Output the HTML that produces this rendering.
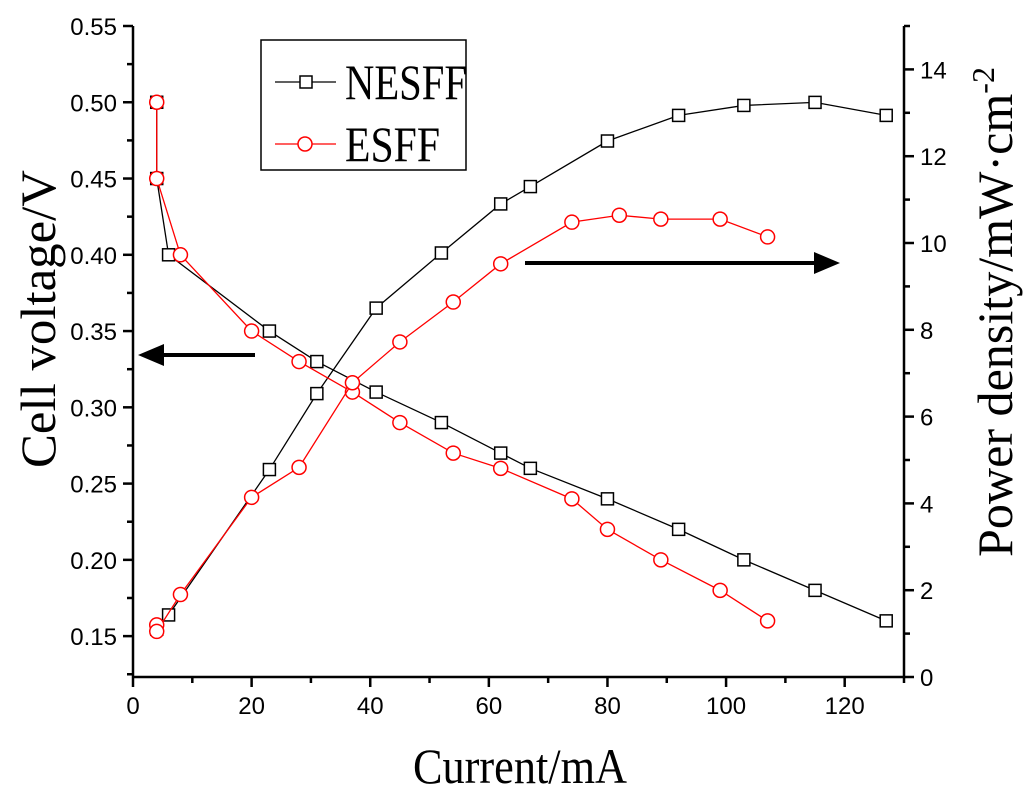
<!DOCTYPE html>
<html><head><meta charset="utf-8"><style>
html,body{margin:0;padding:0;background:#fff;}
svg{display:block;}
.tk{font-family:"Liberation Sans",Arial,sans-serif;font-size:24px;fill:#000;}
.tt{font-family:"Liberation Serif","Times New Roman",serif;font-size:50px;fill:#000;}
</style></head><body>
<svg id="chart" width="1024" height="797" viewBox="0 0 1024 797"></svg>
<script>
const xTicks=[0,20,40,60,80,100,120];
const yLTicks=[0.15,0.20,0.25,0.30,0.35,0.40,0.45,0.50,0.55];
const yRTicks=[0,2,4,6,8,10,12,14];
const nesffVI=[4,4,6,23,31,41,52,62,67,80,92,103,115,127];
const nesffV=[0.50,0.45,0.40,0.35,0.33,0.31,0.29,0.27,0.26,0.24,0.22,0.20,0.18,0.16];
const nesffPI=[4,6,23,31,41,52,62,67,80,92,103,115,127];
const nesffP=[1.1,1.43,4.78,6.53,8.5,9.77,10.9,11.3,12.35,12.94,13.17,13.24,12.94];
const esffVI=[4,4,8,20,28,37,45,54,62,74,80,89,99,107];
const esffV=[0.50,0.45,0.40,0.35,0.33,0.31,0.29,0.27,0.26,0.24,0.22,0.20,0.18,0.16];
const esffPI=[4,4,8,20,28,37,45,54,62,74,82,89,99,107];
const esffP=[1.2,1.05,1.9,4.14,4.83,6.78,7.72,8.64,9.52,10.48,10.64,10.55,10.55,10.14];

const L=133,R=904,T=26,B=677;
const X=v=>L+(v-0)/130*(R-L);
const YL=v=>B-(v-0.1232)/(0.55-0.1232)*(B-T);
const YR=v=>B-v/15*(B-T);
const svg=document.getElementById('chart');
const NS='http://www.w3.org/2000/svg';
function mk(tag,attrs,parent){const e=document.createElementNS(NS,tag);for(const k in attrs)e.setAttribute(k,attrs[k]);(parent||svg).appendChild(e);return e;}

const ax=mk('g',{stroke:'#000','stroke-width':2.5,fill:'none'});


mk('line',{x1:L,y1:T,x2:L,y2:B},ax);
mk('line',{x1:L,y1:B,x2:R,y2:B},ax);
mk('line',{x1:R,y1:T,x2:R,y2:B},ax);
xTicks.forEach(v=>{const x=X(v);mk('line',{x1:x,y1:B,x2:x,y2:B+10},ax);
 mk('line',{x1:X(v+10),y1:B,x2:X(v+10),y2:B+6},ax);
 const t=mk('text',{x:x,y:B+37,'text-anchor':'middle',class:'tk'});t.textContent=v;
 
 });
yLTicks.forEach(v=>{const y=YL(v);mk('line',{x1:L-10,y1:y,x2:L,y2:y},ax);
 mk('line',{x1:L-6,y1:YL(v-0.025),x2:L,y2:YL(v-0.025)},ax);
 const t=mk('text',{x:L-16,y:y+9,'text-anchor':'end',class:'tk'});t.textContent=v.toFixed(2);
 
 });
mk('line',{x1:L-6,y1:YL(0.575),x2:L,y2:YL(0.575)},ax);
yRTicks.forEach(v=>{const y=YR(v);mk('line',{x1:R,y1:y,x2:R+10,y2:y},ax);
 mk('line',{x1:R,y1:YR(v+1),x2:R+6,y2:YR(v+1)},ax);
 const t=mk('text',{x:R+16,y:y+9,'text-anchor':'start',class:'tk'});t.textContent=v;
 
 });

function series(xs,ys,Y,color,shape,name){
 const g=mk('g',{});
 
 
 mk('polyline',{points:xs.map((x,i)=>X(x)+','+Y(ys[i])).join(' '),fill:'none',stroke:color,'stroke-width':1.3},g);
 xs.forEach((x,i)=>{const cx=X(x),cy=Y(ys[i]);
  if(shape==='sq')mk('rect',{x:cx-6,y:cy-6,width:12,height:12,fill:'#fff',stroke:color,'stroke-width':1.5},g);
  else mk('circle',{cx:cx,cy:cy,r:7,fill:'#fff',stroke:color,'stroke-width':1.5},g);});
}
series(nesffVI,nesffV,YL,'#000','sq','nesff-voltage-series');
series(nesffPI,nesffP,YR,'#000','sq','nesff-power-series');
series(esffVI,esffV,YL,'#f00','ci','esff-voltage-series');
series(esffPI,esffP,YR,'#f00','ci','esff-power-series');

function arrow(x1,x2,y,name){const g=mk('g',{});
 
 
 const d=x2>x1?-1:1;
 mk('line',{x1:x1,y1:y,x2:x2+d*22,y2:y,stroke:'#000','stroke-width':4},g);
 mk('polygon',{points:`${x2},${y} ${x2+d*26},${y-11} ${x2+d*26},${y+11}`,fill:'#000'},g);}
arrow(255,138,355,'left-axis-arrow');
arrow(525,840,263,'right-axis-arrow');

const lg=mk('g',{});


mk('rect',{x:261,y:40,width:205,height:130,fill:'#fff',stroke:'#000','stroke-width':1.5},lg);
mk('line',{x1:275,y1:82,x2:336,y2:82,stroke:'#000','stroke-width':1.3},lg);
mk('rect',{x:300,y:76,width:12,height:12,fill:'#fff',stroke:'#000','stroke-width':1.5},lg);
mk('line',{x1:275,y1:144,x2:336,y2:144,stroke:'#f00','stroke-width':1.3},lg);
mk('circle',{cx:305,cy:144,r:7,fill:'#fff',stroke:'#f00','stroke-width':1.5},lg);
let t=mk('text',{x:345,y:99,class:'tt',textLength:122,lengthAdjust:'spacingAndGlyphs'},lg);t.textContent='NESFF';


t=mk('text',{x:345,y:161,class:'tt',textLength:95,lengthAdjust:'spacingAndGlyphs'},lg);t.textContent='ESFF';



t=mk('text',{x:413,y:783,class:'tt','font-size':52,textLength:214,lengthAdjust:'spacingAndGlyphs'});t.textContent='Current/mA';


t=mk('text',{x:0,y:0,class:'tt','font-size':60,textLength:298,lengthAdjust:'spacingAndGlyphs',transform:'translate(55,468) rotate(-90)'});t.textContent='Cell voltage/V';


t=mk('text',{x:0,y:0,class:'tt','font-size':52,textLength:490,lengthAdjust:'spacingAndGlyphs',transform:'translate(1012,557) rotate(-90)'});
t.innerHTML='Power density/mW·cm<tspan dy="-18" font-size="32">-2</tspan>';


</script>
</body></html>
